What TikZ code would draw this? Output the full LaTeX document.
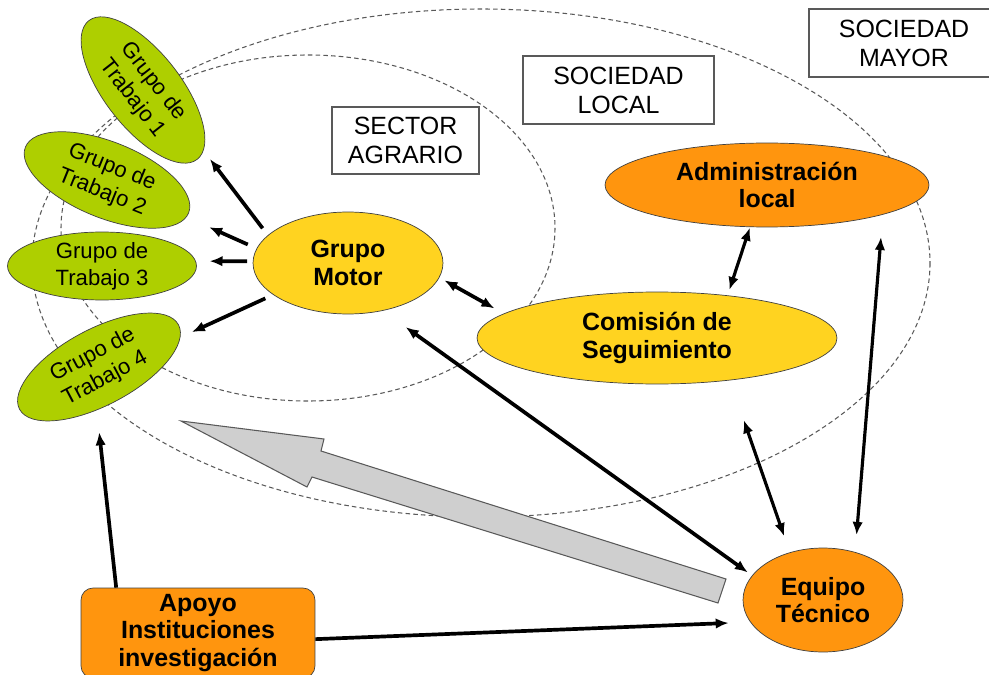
\documentclass[tikz,border=0pt]{standalone}
\usepackage{fontspec}
\setmainfont{Liberation Sans}
\usepackage{tikz}
\usetikzlibrary{shapes,arrows.meta,positioning,calc}
\definecolor{verdegt}{HTML}{AECF00}
\definecolor{amarillo}{HTML}{FFD320}
\definecolor{naranja}{HTML}{FF950E}
\tikzset{>={Latex[length=7.4pt,width=6pt]}}
\tikzset{
  zona/.style={draw=black!65,line width=0.6pt,dash pattern=on 2.6pt off 1.8pt},
  caja/.style={draw=black!65,line width=0.8pt,fill=white,align=center,inner sep=0pt,
    font=\fontsize{14.2}{16.5}\selectfont},
  trabajo/.style={ellipse,draw=black!75,fill=verdegt,align=center,inner sep=0pt,outer sep=0pt,
    minimum width=3.52cm,minimum height=1.52cm,font=\fontsize{12.6}{15.2}\selectfont},
  elipse/.style={ellipse,draw=black!75,align=center,inner sep=0pt,outer sep=0pt,
    font=\bfseries\fontsize{14.2}{15.7}\selectfont},
  flecha/.style={line width=2.1pt},
  fina/.style={line width=1.8pt},
  bloque/.style={fill=black!19,draw=black!65,line width=0.6pt}
}

\begin{document}
\begin{tikzpicture}[x=0.02cm,y=-0.02cm]
    \useasboundingbox (0,0) rectangle (989,675);
    \clip (0,0) rectangle (989,675);
    \draw [zona] (481,263) ellipse [x radius=449, y radius=254];
    \draw [zona] (308,228) ellipse [x radius=247, y radius=173];
    \node [caja,minimum width=3.8cm,minimum height=1.36cm] (mayor) at (904,43) {SOCIEDAD\\MAYOR};
    \node [caja,minimum width=3.82cm,minimum height=1.36cm] (local) at (618.5,90) {SOCIEDAD\\LOCAL};
    \node [caja,minimum width=2.94cm,minimum height=1.34cm] (agrario) at (405.5,140.5) {SECTOR\\AGRARIO};
    \node [trabajo,rotate=-52] (gt1) at (143,90) {Grupo de\\Trabajo 1};
    \node [trabajo,rotate=-22] (gt2) at (107,180) {Grupo de\\Trabajo 2};
    \node [trabajo,minimum width=3.78cm,minimum height=1.36cm] (gt3) at (102,266) {Grupo de\\Trabajo 3};
    \node [trabajo,rotate=28,minimum width=3.6cm] (gt4) at (99,367) {Grupo de\\Trabajo 4};
    \node [elipse,fill=amarillo,minimum width=3.8cm,minimum height=2.04cm] (motor) at (348,263) {Grupo\\Motor};
    \node [elipse,fill=amarillo,minimum width=7.2cm,minimum height=1.84cm] (comision) at (657,338) {Comisión de\\Seguimiento};
    \node [elipse,fill=naranja,minimum width=6.48cm,minimum height=1.68cm] (admin) at (767,185) {Administración\\local};
    \node [elipse,fill=naranja,minimum width=3.2cm,minimum height=2.08cm] (equipo) at (823,600) {Equipo\\Técnico};
    \node [rectangle,rounded corners=0.24cm,draw=black!75,fill=naranja,align=center,inner sep=0pt,
      minimum width=4.68cm,minimum height=1.8cm,font=\bfseries\fontsize{14.2}{15.4}\selectfont]
      (apoyo) at (198,633) {Apoyo\\Instituciones\\investigación};
    \coordinate (mayorfin) at (881,237);
    \draw [bloque] (181,421) -- (324,439) -- (321,451) -- (726,579) -- (718,603) -- (312,477) -- (307,487) -- cycle;
    \draw [->,flecha,shorten <=0.18cm,shorten >=0.22cm] (motor.161) -- (gt1.7);
    \draw [->,flecha,shorten <=0.2cm,shorten >=0.5cm] (motor.171) -- (gt2.-3);
    \draw [->,flecha,shorten <=0.12cm,shorten >=0.28cm] (motor.179) -- (gt3.3);
    \draw [->,flecha,shorten <=0.18cm,shorten >=0.26cm] (motor.203) -- (gt4.-8);
    \draw [<->,flecha,shorten <=0.12cm,shorten >=0.22cm] (motor.-9) -- (comision.171);
    \draw [<->,fina,shorten <=0.02cm,shorten >=0.12cm] (admin.-112) -- (comision.31);
    \draw [<->,flecha,shorten <=0.57cm,shorten >=0.11cm] (motor.-54) -- (equipo.161);
    \draw [<->,fina,shorten <=0.85cm,shorten >=0.35cm] (comision.-30) -- (equipo.125);
    \draw [<->,fina,shorten >=0.35cm] (mayorfin) -- (equipo.56);
    \draw [->,flecha,shorten >=0.44cm] (apoyo.-3) -- (equipo.197);
    \draw [->,flecha,shorten >=0.45cm] (apoyo.151) -- (gt4.-121);
\end{tikzpicture}
\end{document}
